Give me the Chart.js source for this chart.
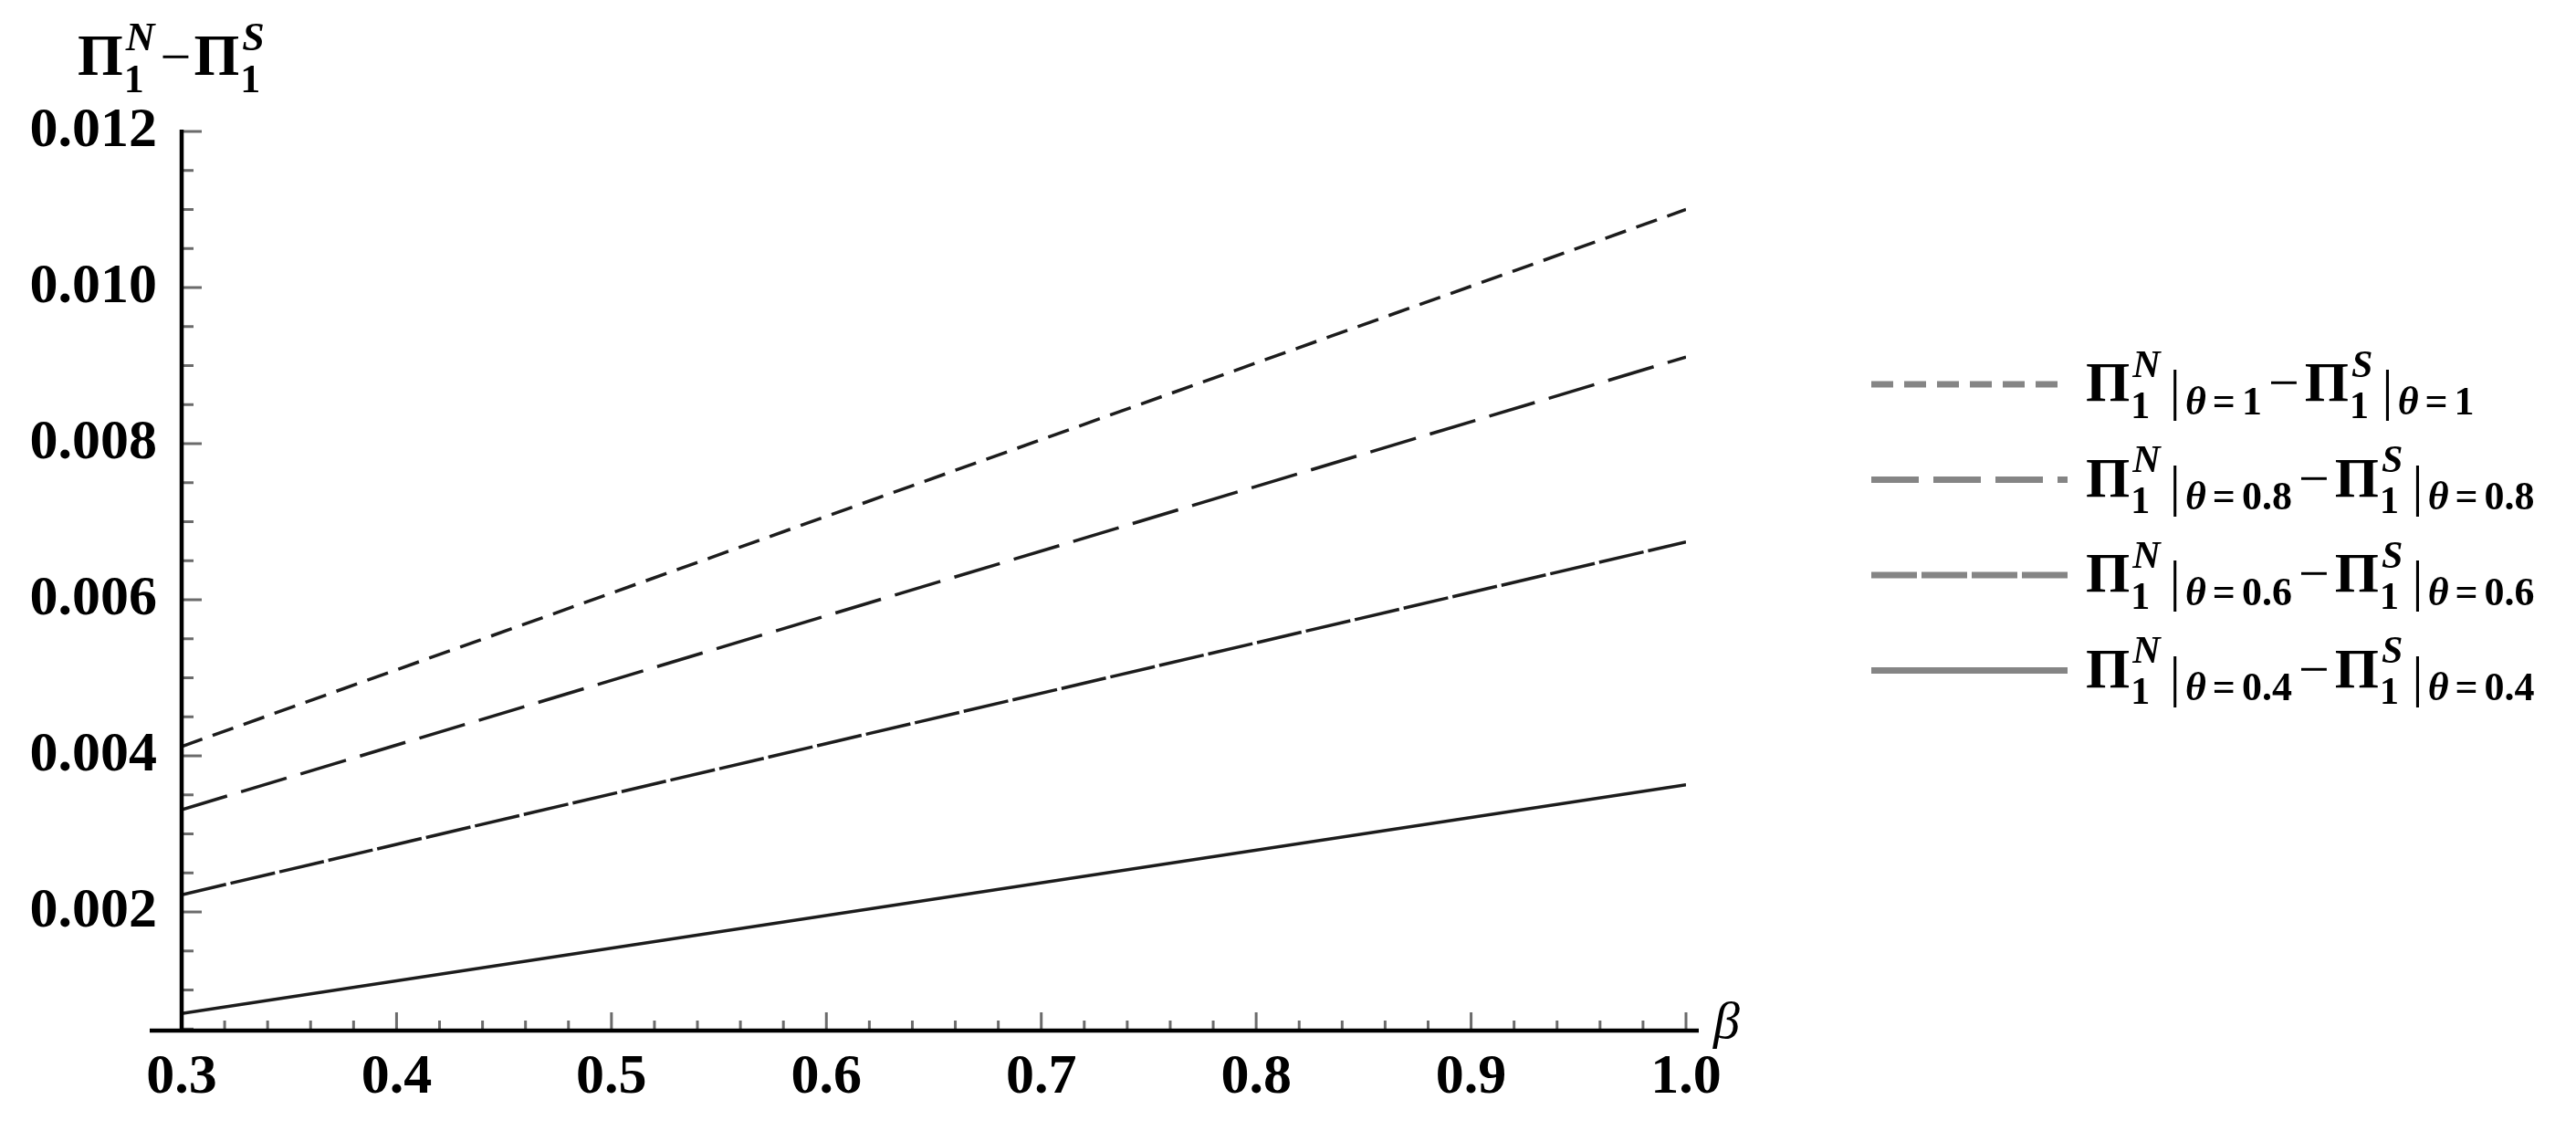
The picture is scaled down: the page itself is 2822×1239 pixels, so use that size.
<!DOCTYPE html>
<html>
<head>
<meta charset="utf-8">
<script src="https://cdn.jsdelivr.net/npm/chart.js@4.4.1/dist/chart.umd.min.js"></script>
<style>
  html, body { margin: 0; padding: 0; background: #fff; }
</style>
</head>
<body>
<canvas id="profitGap" width="2822" height="1239"></canvas>
<script>
// values (beta -> Pi1^N - Pi1^S)
const betaValues = [0.3, 1.0];
const gapTheta1 = [0.00412, 0.0110];
const gapTheta08 = [0.00331, 0.00911];
const gapTheta06 = [0.00222, 0.00674];
const gapTheta04 = [0.00070, 0.00363];

const thetaLabels = ["1", "0.8", "0.6", "0.4"];
const lineDashes = [[24, 12], [52, 16], [50, 5], []];

const xTicks = [0.3, 0.4, 0.5, 0.6, 0.7, 0.8, 0.9, 1.0];
const xTickLabels = ["0.3", "0.4", "0.5", "0.6", "0.7", "0.8", "0.9", "1.0"];
const yTicks = [0.002, 0.004, 0.006, 0.008, 0.010, 0.012];
const yTickLabels = ["0.002", "0.004", "0.006", "0.008", "0.010", "0.012"];
const xMinorStep = 0.02;
const yMinorStep = 0.0005;

const serif = '"Liberation Serif", "Times New Roman", serif';

const toPoints = (vals) => vals.map((v, i) => ({ x: betaValues[i], y: v }));

const series = [gapTheta1, gapTheta08, gapTheta06, gapTheta04];

const datasets = series.map((vals, i) => ({
  label: "theta=" + thetaLabels[i],
  data: toPoints(vals),
  borderColor: "#1c1c1c",
  borderWidth: 3.5,
  borderDash: lineDashes[i],
  pointRadius: 0,
  fill: false,
  tension: 0,
}));

// Pi with sub 1 and superscript letter, returns next x
const drawPi = (ctx, x, base, supLetter, size) => {
  ctx.font = "bold " + size + "px " + serif;
  ctx.fillText("\u03A0", x, base);
  x += ctx.measureText("\u03A0").width + 1;
  const small = Math.round(size * 0.68);
  ctx.font = "bold " + small + "px " + serif;
  ctx.fillText("1", x, base + size * 0.3);
  const w1 = ctx.measureText("1").width;
  ctx.font = "italic bold " + small + "px " + serif;
  ctx.fillText(supLetter, x + 2, base - size * 0.42);
  const w2 = ctx.measureText(supLetter).width + 2;
  return x + Math.max(w1, w2) + 2;
};

// "|theta = value" evaluation bar
const drawAt = (ctx, x, base, theta, size) => {
  ctx.font = size + "px " + serif;
  ctx.fillText("|", x + 8, base + size * 0.15);
  x += ctx.measureText("|").width + 13;
  const sub = Math.round(size * 0.71);
  const yb = base + size * 0.24;
  ctx.font = "italic bold " + sub + "px " + serif;
  ctx.fillText("\u03B8", x, yb);
  x += ctx.measureText("\u03B8").width + 7;
  ctx.font = "bold " + sub + "px " + serif;
  ctx.fillText("=", x, yb);
  x += ctx.measureText("=").width + 7;
  ctx.fillText(theta, x, yb);
  return x + ctx.measureText(theta).width;
};

const drawMinus = (ctx, x, base, size) => {
  ctx.font = size + "px " + serif;
  ctx.fillText("\u2212", x, base);
  return x + ctx.measureText("\u2212").width;
};

const mathAxes = {
  id: "mathAxes",
  beforeDatasetsDraw(chart) {
    const { ctx, scales: { x, y } } = chart;
    const axisX = x.getPixelForValue(x.min);
    const axisY = y.getPixelForValue(y.min);
    ctx.save();
    ctx.strokeStyle = "#6b6b6b";
    ctx.lineWidth = 3;
    // x ticks, pointing up into the plot
    const nx = Math.round((x.max - x.min) / xMinorStep);
    for (let k = 0; k <= nx; k++) {
      const px = x.getPixelForValue(x.min + k * xMinorStep);
      const len = k % 5 === 0 ? 20 : 11;
      ctx.beginPath();
      ctx.moveTo(px, axisY);
      ctx.lineTo(px, axisY - len);
      ctx.stroke();
    }
    // y ticks, pointing right
    const ny = Math.round(y.max / yMinorStep);
    for (let k = 1; k <= ny; k++) {
      const v = k * yMinorStep;
      if (v < y.min) continue;
      const py = y.getPixelForValue(v);
      const len = k % 4 === 0 ? 22 : 13;
      ctx.beginPath();
      ctx.moveTo(axisX, py);
      ctx.lineTo(axisX + len, py);
      ctx.stroke();
    }
    ctx.restore();
  },
  afterDraw(chart) {
    const { ctx, scales: { x, y } } = chart;
    const axisX = x.getPixelForValue(x.min);
    const axisY = y.getPixelForValue(y.min);
    const top = y.getPixelForValue(y.max);
    ctx.save();
    ctx.strokeStyle = "#000";
    ctx.lineWidth = 4.5;
    ctx.beginPath();
    ctx.moveTo(axisX, top - 2);
    ctx.lineTo(axisX, axisY);
    ctx.stroke();
    ctx.beginPath();
    ctx.moveTo(x.left - 35, axisY);
    ctx.lineTo(x.right + 14, axisY);
    ctx.stroke();

    ctx.fillStyle = "#000";
    ctx.textBaseline = "alphabetic";
    ctx.textAlign = "left";

    // beta label
    ctx.font = "italic 58px " + serif;
    ctx.fillText("\u03B2", x.right + 30, axisY + 8);

    // y axis title
    let tx = drawPi(ctx, 85, 82, "N", 64);
    tx = drawMinus(ctx, tx + 4, 82, 60);
    drawPi(ctx, tx + 3, 82, "S", 64);

    // legend
    chart.data.datasets.forEach((ds, i) => {
      const ly = 421 + i * 104.5;
      ctx.save();
      ctx.strokeStyle = "#858585";
      ctx.lineWidth = 7;
      ctx.setLineDash(ds.borderDash);
      ctx.beginPath();
      ctx.moveTo(2050, ly);
      ctx.lineTo(2265, ly);
      ctx.stroke();
      ctx.restore();
      const base = ly + 18;
      let lx = drawPi(ctx, 2285, base, "N", 62);
      lx = drawAt(ctx, lx, base, thetaLabels[i], 62);
      lx = drawMinus(ctx, lx + 7, base, 60);
      lx = drawPi(ctx, lx + 6, base, "S", 62);
      drawAt(ctx, lx, base, thetaLabels[i], 62);
    });
    ctx.restore();
  },
};

const tickFont = { family: serif, size: 62, weight: "bold" };

new Chart(document.getElementById("profitGap"), {
  type: "line",
  data: { datasets },
  options: {
    responsive: false,
    animation: false,
    devicePixelRatio: 1,
    layout: { padding: { left: 0, top: 144, right: 975, bottom: 0 } },
    plugins: { legend: { display: false }, tooltip: { enabled: false } },
    scales: {
      x: {
        type: "linear",
        min: 0.3,
        max: 1.0,
        grid: { display: false },
        border: { display: false },
        afterBuildTicks: (axis) => { axis.ticks = xTicks.map((v) => ({ value: v })); },
        afterFit: (axis) => { axis.height = 110; },
        ticks: {
          font: tickFont,
          color: "#000",
          padding: 7,
          maxRotation: 0,
          callback: (value, index) => xTickLabels[index],
        },
      },
      y: {
        type: "linear",
        min: 0.00048,
        max: 0.012,
        grid: { display: false },
        border: { display: false },
        afterBuildTicks: (axis) => { axis.ticks = yTicks.map((v) => ({ value: v })); },
        afterFit: (axis) => { axis.width = 199; },
        ticks: {
          font: tickFont,
          color: "#000",
          padding: 19,
          callback: (value, index) => yTickLabels[index],
        },
      },
    },
  },
  plugins: [mathAxes],
});
</script>
</body>
</html>
